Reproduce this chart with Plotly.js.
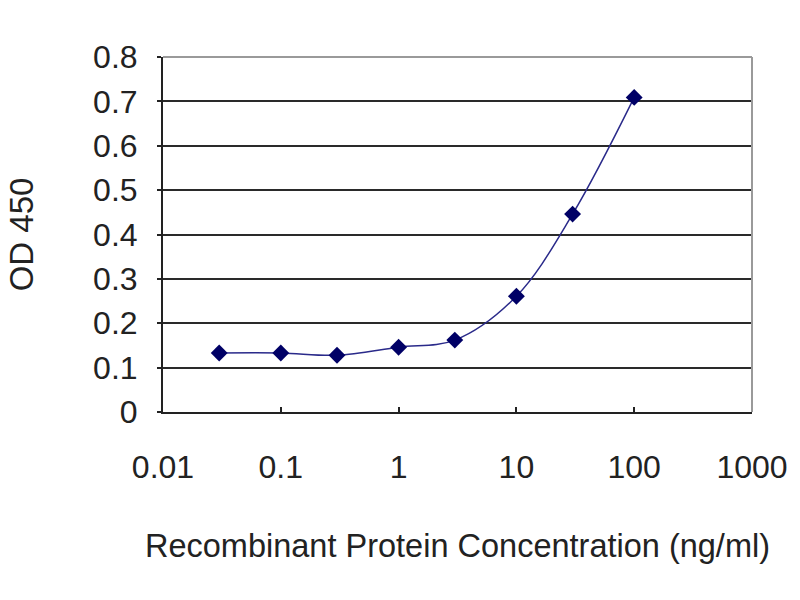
<!DOCTYPE html>
<html>
<head>
<meta charset="utf-8">
<script src="https://cdn.plot.ly/plotly-3.0.1.min.js"></script>
<style>html,body{margin:0;padding:0;background:#fff;}#chart{width:800px;height:600px;}</style>
</head>
<body>
<div id="chart"></div>
<script>
// Data
const concentration = [0.03, 0.1, 0.3, 1, 3, 10, 30, 100];
const od450 = [0.133, 0.133, 0.128, 0.146, 0.162, 0.261, 0.446, 0.709];
const xTickVals = [0.01, 0.1, 1, 10, 100, 1000];
const xTickText = ["0.01", "0.1", "1", "10", "100", "1000"];
const yTickVals = [0, 0.1, 0.2, 0.3, 0.4, 0.5, 0.6, 0.7, 0.8];
const yTickText = ["0", "0.1", "0.2", "0.3", "0.4", "0.5", "0.6", "0.7", "0.8"];

const fontFam = "Liberation Sans, Arial, sans-serif";

const trace = {
  x: concentration,
  y: od450,
  type: "scatter",
  mode: "lines+markers",
  line: {color: "#2a2a8a", width: 1.5, shape: "spline", smoothing: 1},
  marker: {symbol: "diamond", size: 13, color: "#000066"},
  cliponaxis: false,
  hoverinfo: "x+y"
};

const layout = {
  width: 800, height: 600,
  margin: {l: 163, r: 48, t: 57, b: 188},
  paper_bgcolor: "#ffffff",
  plot_bgcolor: "#ffffff",
  showlegend: false,
  font: {family: fontFam, color: "#222", size: 32},
  xaxis: {
    type: "log",
    range: [-2, 3],
    tickvals: xTickVals,
    ticktext: xTickText,
    ticks: "inside",
    ticklen: 5,
    tickwidth: 2,
    tickcolor: "#222",
    showgrid: false,
    zeroline: false,
    showline: true,
    linecolor: "#222",
    linewidth: 2,
    ticklabelstandoff: 26,
    tickfont: {size: 32, family: fontFam, color: "#222"},
    title: {text: "Recombinant Protein Concentration (ng/ml)", font: {size: 32.5, family: fontFam, color: "#222"}, standoff: 50}
  },
  yaxis: {
    range: [0, 0.8],
    tickvals: yTickVals,
    ticktext: yTickText,
    ticks: "outside",
    ticklen: 4,
    tickwidth: 2,
    tickcolor: "#222",
    showgrid: true,
    gridcolor: "#2a2a2a",
    gridwidth: 2,
    zeroline: false,
    showline: true,
    linecolor: "#222",
    linewidth: 2,
    ticklabelstandoff: 13,
    tickfont: {size: 32, family: fontFam, color: "#222"},
    title: {text: "OD 450", font: {size: 33, family: fontFam, color: "#222"}, standoff: 50}
  },
  shapes: [
    {type: "line", xref: "paper", yref: "paper", x0: 0, x1: 1, y0: 1, y1: 1, line: {color: "#9a9a9a", width: 2}, layer: "above"},
    {type: "line", xref: "paper", yref: "paper", x0: 1, x1: 1, y0: 0, y1: 1, line: {color: "#9a9a9a", width: 2}, layer: "above"}
  ]
};

Plotly.newPlot("chart", [trace], layout, {displayModeBar: false, staticPlot: true});
</script>
</body>
</html>
